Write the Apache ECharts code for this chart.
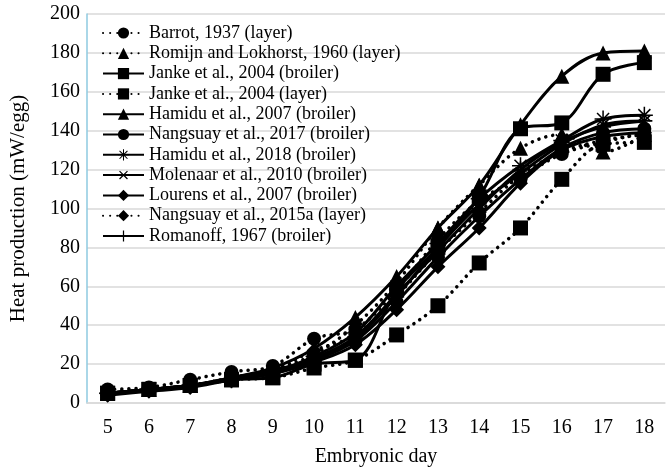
<!DOCTYPE html>
<html>
<head>
<meta charset="utf-8">
<script src="https://cdn.jsdelivr.net/npm/echarts@6/dist/echarts.min.js"></script>
<style>html,body{margin:0;padding:0;background:#fff}#c{width:666px;height:472px}</style>
</head>
<body>
<div id="c"></div>
<script>
const days = ['5','6','7','8','9','10','11','12','13','14','15','16','17','18'];
const yTicks = [0, 20, 40, 60, 80, 100, 120, 140, 160, 180, 200];

const seriesNames = [
  'Barrot, 1937 (layer)',
  'Romijn and Lokhorst, 1960 (layer)',
  'Janke et al., 2004 (broiler)',
  'Janke et al., 2004 (layer)',
  'Hamidu et al., 2007 (broiler)',
  'Nangsuay et al., 2017 (broiler)',
  'Hamidu et al., 2018 (broiler)',
  'Molenaar et al., 2010 (broiler)',
  'Lourens et al., 2007 (broiler)',
  'Nangsuay et al., 2015a (layer)',
  'Romanoff, 1967 (broiler)'
];

const barrot        = [7, 8, 12, 16, 19, 33, 38, 58, 84, 104, 116, 128, 134, 139];
const romijn        = [5, 7, 9, 12, 17, 25, 40, 62, 90, 112, 131, 138, 129, 138];
const jankeBroiler  = [5, 7, 9, 12, 13, 20, 22, 58, 80, 106, 141, 144, 169, 175];
const jankeLayer    = [5, 7, 9, 12, 13, 18, 22, 35, 50, 72, 90, 115, 133, 134];
const hamidu2007    = [5, 7, 9, 13, 18, 28, 44, 65, 90, 112, 143, 168, 180, 181];
const nangsuay2017  = [5, 7, 9, 13, 17, 22, 32, 52, 75, 96, 115, 131, 139, 141];
const hamidu2018    = [5, 7, 9, 12, 16, 24, 36, 60, 82, 105, 122, 135, 146, 148];
const molenaar      = [5, 7, 9, 12, 15, 22, 33, 55, 80, 102, 118, 133, 143, 145];
const lourens       = [4, 6, 8, 12, 15, 21, 30, 48, 70, 90, 113, 130, 137, 139];
const nangsuay2015a = [5, 7, 9, 13, 17, 27, 35, 55, 78, 98, 117, 129, 135, 138];
const romanoff      = [5, 7, 9, 12, 16, 23, 34, 56, 78, 100, 120, 134, 142, 145];

const seriesData = [barrot, romijn, jankeBroiler, jankeLayer, hamidu2007, nangsuay2017,
                    hamidu2018, molenaar, lourens, nangsuay2015a, romanoff];

// marker glyph shapes (single closed polygons, 20x20 box)
function starPath(w) {
  const c = 10, R = 10, r = w / Math.sin(Math.PI / 8);
  const pts = [];
  for (let k = 0; k < 8; k++) {
    const t = k * Math.PI / 4;
    const ux = Math.cos(t), uy = Math.sin(t), nx = -uy, ny = ux;
    pts.push([c + R * ux - w * nx, c + R * uy - w * ny]);
    pts.push([c + R * ux + w * nx, c + R * uy + w * ny]);
    const ti = t + Math.PI / 8;
    pts.push([c + r * Math.cos(ti), c + r * Math.sin(ti)]);
  }
  return 'path://M' + pts.map(p => p[0].toFixed(2) + ',' + p[1].toFixed(2)).join('L') + 'Z';
}
const ASTERISK = starPath(0.9);
const CROSS = 'path://M8.9,0L11.1,0L11.1,8.9L20,8.9L20,11.1L11.1,11.1L11.1,20L8.9,20L8.9,11.1L0,11.1L0,8.9L8.9,8.9Z';

const styles = [
  {symbol: 'circle', size: 14, dotted: true},
  {symbol: 'triangle', size: 15, dotted: true},
  {symbol: 'rect', size: 15, dotted: false},
  {symbol: 'rect', size: 15, dotted: true},
  {symbol: 'triangle', size: 15, dotted: false},
  {symbol: 'circle', size: 14, dotted: false},
  {symbol: ASTERISK, size: 17, dotted: false, custom: true},
  {symbol: CROSS, size: 16, rotate: 45, dotted: false, custom: true},
  {symbol: 'diamond', size: 15, dotted: false},
  {symbol: 'diamond', size: 15, dotted: true},
  {symbol: CROSS, size: 16, dotted: false, custom: true}
];

const FONT = '"Liberation Serif", "Times New Roman", serif';

function buildOption(useCustomSymbols) {
  const series = seriesNames.map((name, i) => {
    const s = styles[i];
    const sym = s.custom && !useCustomSymbols ? 'emptyCircle' : s.symbol;
    const o = {
      name: name,
      type: 'line',
      data: seriesData[i],
      smooth: 0.35,
      symbol: sym,
      symbolSize: s.custom && !useCustomSymbols ? 8 : s.size,
      lineStyle: s.dotted
        ? {color: '#000', width: 3.5, type: [0.1, 7], cap: 'round'}
        : {color: '#000', width: 3},
      itemStyle: {color: '#000'}
    };
    if (s.rotate && useCustomSymbols) o.symbolRotate = s.rotate;
    return o;
  });
  return {
    animation: false,
    textStyle: {fontFamily: FONT},
    grid: {left: 77, right: 1, top: 14, bottom: 67},
    legend: {
      orient: 'vertical',
      left: 97,
      top: 19,
      itemWidth: 41,
      itemHeight: 14,
      itemGap: 2.3,
      textStyle: {fontFamily: FONT, fontSize: 18, color: '#000'}
    },
    xAxis: {
      type: 'category',
      data: days,
      name: 'Embryonic day',
      nameLocation: 'middle',
      nameGap: 44,
      nameTextStyle: {fontFamily: FONT, fontSize: 20, color: '#000'},
      axisLine: {show: true, lineStyle: {color: '#d9d9d9', width: 1.5}},
      axisTick: {show: false},
      axisLabel: {fontFamily: FONT, fontSize: 20, color: '#000', margin: 15}
    },
    yAxis: {
      type: 'value',
      min: yTicks[0],
      max: yTicks[yTicks.length - 1],
      interval: 20,
      name: 'Heat production (mW/egg)',
      nameLocation: 'middle',
      nameGap: 58,
      nameTextStyle: {fontFamily: FONT, fontSize: 21, color: '#000'},
      axisLine: {show: true, lineStyle: {color: '#8ecae0', width: 1.5}},
      axisTick: {show: false},
      axisLabel: {fontFamily: FONT, fontSize: 20, color: '#000', margin: 7},
      splitLine: {show: true, lineStyle: {color: '#d9d9d9', width: 1.5}}
    },
    series: series
  };
}

const chart = echarts.init(document.getElementById('c'));
chart.setOption(buildOption(true));

function legendOk() {
  try {
    const list = chart.getZr().storage.getDisplayList(true);
    for (const el of list) {
      if (el.style && el.style.text === seriesNames[0]) {
        const r = el.getBoundingRect().clone();
        if (el.transform) r.applyTransform(el.transform);
        return r.x > 100 && r.x < 220 && r.y > 5 && r.y < 80;
      }
    }
    return false;
  } catch (e) { return true; }
}
if (!legendOk()) {
  chart.clear();
  chart.setOption(buildOption(false));
}
</script>
</body>
</html>
